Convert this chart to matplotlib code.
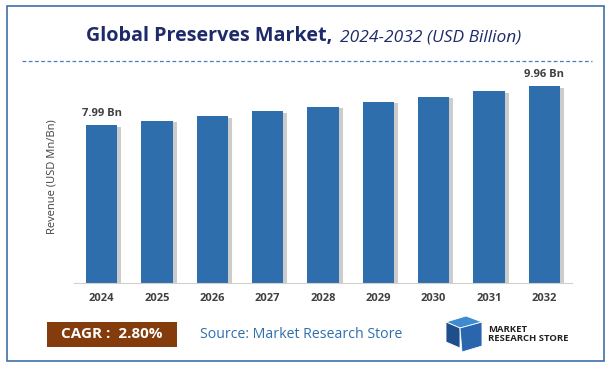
import numpy as np
import matplotlib.pyplot as plt
from matplotlib.patches import Rectangle, Polygon

plt.rcParams['font.family'] = ['Open Sans', 'DejaVu Sans']

years = ['2024', '2025', '2026', '2027', '2028', '2029', '2030', '2031', '2032']
revenue = [7.99, 8.21, 8.44, 8.68, 8.92, 9.17, 9.43, 9.69, 9.96]
shown_labels = {0: '7.99 Bn', 8: '9.96 Bn'}

W, H = 612, 368
fig = plt.figure(figsize=(W / 100, H / 100), dpi=100)

def px(x, y):
    # pixel coords (top-left origin) -> figure fraction
    return x / W, 1 - y / H

# outer frame
fig.patches.append(Rectangle(px(7, 361), 597 / W, 355 / H, transform=fig.transFigure,
                             fill=False, edgecolor='#3F6FA8', linewidth=1.2))

# title
fig.text(*px(338, 36), 'Global Preserves Market, ', ha='right', va='center',
         fontsize=14.2, fontweight='bold', color='#1F2A6B')
fig.text(*px(340, 37), '2024-2032 (USD Billion)', ha='left', va='center',
         fontsize=12.5, fontstyle='italic', color='#1F2A6B')

# dashed separator
fig.add_artist(plt.Line2D([22 / W, 592 / W], [1 - 61 / H] * 2, transform=fig.transFigure,
                          color='#4A7CC0', linewidth=0.9, linestyle=(0, (3, 2))))

# bar chart
ax = fig.add_axes([74 / W, 1 - 283 / H, 498 / W, 213 / H])
x = np.arange(len(years))
# shadows
ax.bar(x + 0.07, np.array(revenue) - 0.08, width=0.57, color='#9a9a9a', alpha=0.5, zorder=1)
ax.bar(x, revenue, width=0.57, color='#2F6EAD', zorder=2)
ax.set_xlim(-0.5, len(years) - 0.5)
ax.set_ylim(0, 10.77)
for i, lab in shown_labels.items():
    ax.text(x[i], revenue[i] + 0.3, lab, ha='center', va='bottom', fontsize=8,
            fontweight='bold', color='#404040')
ax.set_xticks(x)
ax.set_xticklabels(years, fontsize=8, fontweight='bold', color='#404040')
ax.tick_params(axis='x', length=0, pad=7)
ax.set_yticks([])
for s in ['top', 'right', 'left']:
    ax.spines[s].set_visible(False)
ax.spines['bottom'].set_color('#d0d0d0')
ax.set_ylabel('Revenue (USD Mn/Bn)', fontsize=8, color='#404040', labelpad=12)

# CAGR box
fig.patches.append(Rectangle(px(47, 347), 130 / W, 25 / H, transform=fig.transFigure,
                             facecolor='#843C0C', edgecolor='none'))
fig.text(*px(112, 334), 'CAGR :  2.80%', ha='center', va='center', fontsize=11,
         fontweight='bold', color='white')

fig.text(*px(200, 334), 'Source: Market Research Store', ha='left', va='center',
         fontsize=10.2, color='#2F6EAD')

# logo
logo = [
    [(446, 322), (466, 316), (482, 322), (460, 328)],
    [(446, 322), (460, 328), (460, 348), (446, 342)],
    [(460, 328), (482, 322), (482, 346), (462, 352)],
]
for poly, c in zip(logo, ['#3E8BD0', '#1F4E8C', '#2A66AE']):
    fig.patches.append(Polygon([px(a, b) for a, b in poly], closed=True, transform=fig.transFigure,
                               facecolor=c, edgecolor='white', linewidth=0.6))
fig.text(*px(488, 334), 'MARKET\nRESEARCH STORE', ha='left', va='center', fontsize=6.8,
         fontweight='bold', color='#222222', linespacing=0.95)

fig.savefig('out.png', dpi=100)
